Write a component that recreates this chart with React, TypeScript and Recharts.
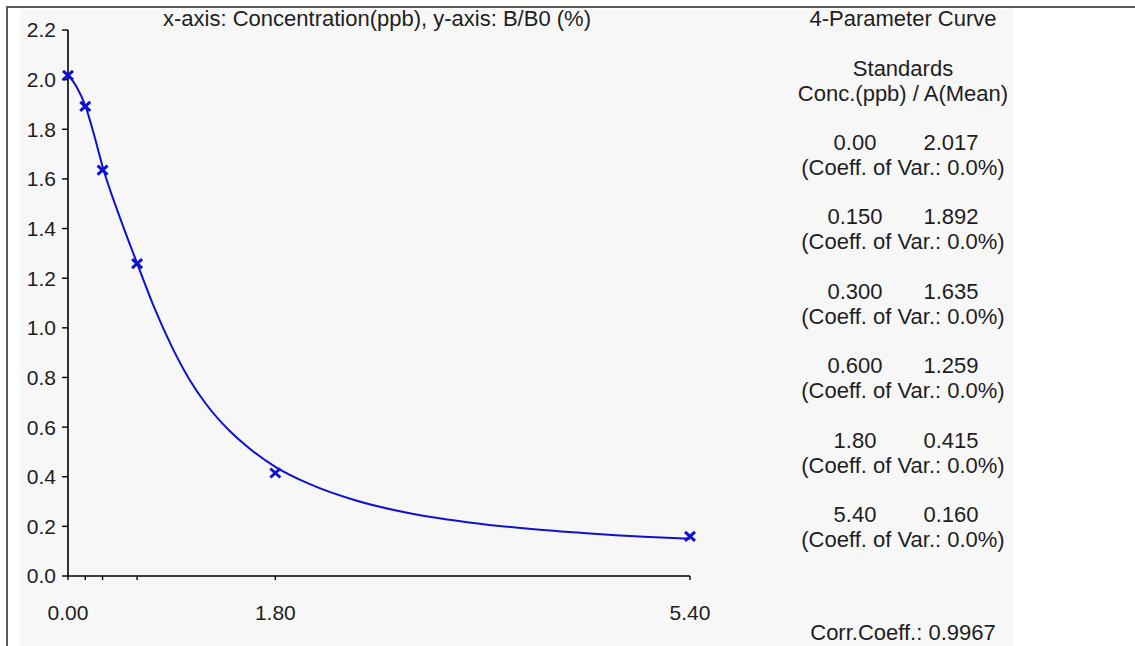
import React from 'react';
import { ComposedChart, Line, Scatter, XAxis, YAxis } from 'recharts';

// standards (conc in ppb, mean absorbance)
const conc = [0, 0.15, 0.3, 0.6, 1.8, 5.4];
const meanA = [2.017, 1.892, 1.635, 1.259, 0.415, 0.16];
const concLabels = ['0.00', '0.150', '0.300', '0.600', '1.80', '5.40'];
const meanLabels = ['2.017', '1.892', '1.635', '1.259', '0.415', '0.160'];
const cvLabels = ['0.0%', '0.0%', '0.0%', '0.0%', '0.0%', '0.0%'];

// fitted 4-parameter curve
const curveX = [0, 0.075, 0.15, 0.225, 0.3, 0.45, 0.6, 0.75, 0.9, 1.05, 1.2, 1.4, 1.6, 1.8, 2.1, 2.5, 3.0, 3.5, 4.0, 4.5, 5.0, 5.4];
const curveY = [2.02, 1.97, 1.895, 1.78, 1.65, 1.445, 1.26, 1.08, 0.925, 0.795, 0.692, 0.586, 0.505, 0.44, 0.37, 0.304, 0.25, 0.215, 0.19, 0.172, 0.158, 0.15];

const xTicks = [0, 0.15, 0.3, 0.6, 1.8, 5.4];
const xLabelled = [0, 1.8, 5.4];
const yTicks = [0, 0.2, 0.4, 0.6, 0.8, 1.0, 1.2, 1.4, 1.6, 1.8, 2.0, 2.2];

const title = 'x-axis: Concentration(ppb), y-axis: B/B0 (%)';
const corrText = 'Corr.Coeff.: 0.9967';

const FONT = '"Liberation Sans", Arial, sans-serif';
const BLUE = '#1010d2';

const curve = curveX.map((x, i) => ({ x, y: curveY[i] }));
const standards = conc.map((x, i) => ({ x, y: meanA[i] }));

const Cross = (props: any) => {
  const { cx, cy } = props;
  if (cx == null || cy == null) return null;
  return (
    <path
      d={`M${cx - 5},${cy - 4.5}L${cx + 5},${cy + 4.5}M${cx - 5},${cy + 4.5}L${cx + 5},${cy - 4.5}`}
      stroke={BLUE}
      strokeWidth={3}
      fill="none"
    />
  );
};

export default function App() {
  const rowTop = 142;
  const rowStep = 74.4;

  return (
    <div style={{ position: 'fixed', left: 0, top: 0, width: 1135, height: 646, background: '#fff', overflow: 'hidden' }}>
      {/* frame */}
      <div style={{ position: 'absolute', left: 6, top: 6, width: 1129, height: 2, background: '#5a5a5a' }} />
      <div style={{ position: 'absolute', left: 6, top: 6, width: 2, height: 640, background: '#5a5a5a' }} />
      <div style={{ position: 'absolute', left: 20, top: 9, width: 993, height: 637, background: '#f7f7f7' }} />

      <div style={{ position: 'absolute', left: 0, top: 0 }}>
        <ComposedChart width={1135} height={646} margin={{ top: 30, right: 445, bottom: 30, left: 20 }}>
          <XAxis
            type="number"
            dataKey="x"
            domain={[0, 5.4]}
            ticks={xTicks}
            interval={0}
            tickFormatter={(v: number) => (xLabelled.includes(v) ? v.toFixed(2) : '')}
            height={40}
            tickSize={4}
            tickMargin={25}
            axisLine={{ stroke: '#000', strokeWidth: 1.6 }}
            tickLine={{ stroke: '#000', strokeWidth: 1.4 }}
            tick={{ fill: '#1e1e1e', fontSize: 21, fontFamily: FONT }}
          />
          <YAxis
            type="number"
            domain={[0, 2.2]}
            ticks={yTicks}
            interval={0}
            tickFormatter={(v: number) => v.toFixed(1)}
            width={48}
            tickSize={6}
            tickMargin={6}
            axisLine={{ stroke: '#000', strokeWidth: 1.6 }}
            tickLine={{ stroke: '#000', strokeWidth: 1.4 }}
            tick={{ fill: '#1e1e1e', fontSize: 21, fontFamily: FONT }}
          />
          <Line
            data={curve}
            dataKey="y"
            type="monotone"
            stroke={BLUE}
            strokeWidth={2}
            dot={false}
            activeDot={false}
            isAnimationActive={false}
          />
          <Scatter data={standards} dataKey="y" shape={<Cross />} isAnimationActive={false} />
        </ComposedChart>
      </div>

      {/* texts */}
      <svg width={1135} height={646} style={{ position: 'absolute', left: 0, top: 0 }}>
        <g fontFamily={FONT} fontSize={22} fill="#1e1e1e" textAnchor="middle">
          <text x={377} y={26}>{title}</text>
          <text x={903} y={26}>4-Parameter Curve</text>
          <text x={903} y={76}>Standards</text>
          <text x={903} y={101}>Conc.(ppb) / A(Mean)</text>
          {concLabels.map((c, i) => (
            <g key={c}>
              <text x={855} y={rowTop + 8 + i * rowStep}>{c}</text>
              <text x={951} y={rowTop + 8 + i * rowStep}>{meanLabels[i]}</text>
              <text x={903} y={rowTop + 33 + i * rowStep}>{`(Coeff. of Var.: ${cvLabels[i]})`}</text>
            </g>
          ))}
          <text x={903} y={640}>{corrText}</text>
        </g>
      </svg>
    </div>
  );
}
